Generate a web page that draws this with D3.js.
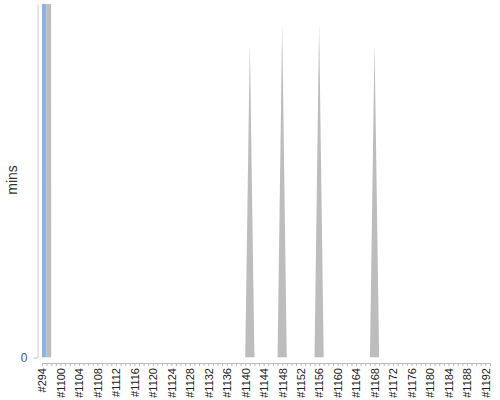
<!DOCTYPE html>
<html>
<head>
<meta charset="utf-8">
<script src="https://cdn.jsdelivr.net/npm/d3@7"></script>
<style>
  body { margin: 0; background: #fff; }
  text { font-family: "Liberation Sans", Arial, sans-serif; }
</style>
</head>
<body>
<div id="chart"></div>
<script>
// builds along the x axis (first one is an old build, then the recent run)
var builds = [294,
  1097, 1098, 1099, 1100, 1101, 1102, 1103, 1104, 1105, 1106,
  1107, 1108, 1109, 1110, 1111, 1112, 1113, 1114, 1115, 1116,
  1117, 1118, 1119, 1120, 1121, 1122, 1123, 1124, 1125, 1126,
  1127, 1128, 1129, 1130, 1131, 1132, 1133, 1134, 1135, 1136,
  1137, 1138, 1139, 1140, 1141, 1142, 1143, 1144, 1145, 1146,
  1147, 1148, 1149, 1150, 1151, 1152, 1153, 1154, 1155, 1156,
  1157, 1158, 1159, 1160, 1161, 1162, 1163, 1164, 1165, 1166,
  1167, 1168, 1169, 1170, 1171, 1172, 1173, 1174, 1175, 1176,
  1177, 1178, 1179, 1180, 1181, 1182, 1183, 1184, 1185, 1186,
  1187, 1188, 1189, 1190, 1191, 1192, 1193];

// duration in mins, per build status
var success = [600,
  0, 0, 0, 0, 0, 0, 0, 0, 0, 0,
  0, 0, 0, 0, 0, 0, 0, 0, 0, 0,
  0, 0, 0, 0, 0, 0, 0, 0, 0, 0,
  0, 0, 0, 0, 0, 0, 0, 0, 0, 0,
  0, 0, 0, 0, 0, 0, 0, 0, 0, 0,
  0, 0, 0, 0, 0, 0, 0, 0, 0, 0,
  0, 0, 0, 0, 0, 0, 0, 0, 0, 0,
  0, 0, 0, 0, 0, 0, 0, 0, 0, 0,
  0, 0, 0, 0, 0, 0, 0, 0, 0, 0,
  0, 0, 0, 0, 0, 0, 0];
var other = [0,
  600, 0, 0, 0, 0, 0, 0, 0, 0, 0,
  0, 0, 0, 0, 0, 0, 0, 0, 0, 0,
  0, 0, 0, 0, 0, 0, 0, 0, 0, 0,
  0, 0, 0, 0, 0, 0, 0, 0, 0, 0,
  0, 0, 0, 0, 17.8, 0, 0, 0, 0, 0,
  0, 18.9, 0, 0, 0, 0, 0, 0, 0, 18.9,
  0, 0, 0, 0, 0, 0, 0, 0, 0, 0,
  0, 17.8, 0, 0, 0, 0, 0, 0, 0, 0,
  0, 0, 0, 0, 0, 0, 0, 0, 0, 0,
  0, 0, 0, 0, 0, 0, 0];

var tickLabels = ["#294", "#1100", "#1104", "#1108", "#1112", "#1116", "#1120",
  "#1124", "#1128", "#1132", "#1136", "#1140", "#1144", "#1148", "#1152",
  "#1156", "#1160", "#1164", "#1168", "#1172", "#1176", "#1180", "#1184",
  "#1188", "#1192"];

var yMax = 20;

var w = 500;
var h = 400;
var plotLeft = 42, plotRight = 490, plotTop = 4, plotBottom = 357.5;

var svg = d3.select("#chart").append("svg")
  .attr("width", w)
  .attr("height", h);

var names = builds.map(function(b) { return "#" + b; });

var x = d3.scalePoint()
  .domain(names)
  .range([plotLeft, plotRight]);

var y = d3.scaleLinear()
  .domain([0, yMax])
  .range([plotBottom, plotTop]);

var rows = names.map(function(n, i) {
  return {build: n, success: success[i], other: other[i]};
});

var stack = d3.stack().keys(["success", "other"]);
var layers = stack(rows);
var colors = {success: "#8fb3e0", other: "#bdbdbd"};

svg.append("clipPath")
  .attr("id", "plot")
  .append("rect")
  .attr("x", 38)
  .attr("y", plotTop)
  .attr("width", w - 38)
  .attr("height", plotBottom - plotTop);

var area = d3.area()
  .x(function(d) { return x(d.data.build); })
  .y0(function(d) { return y(d[0]); })
  .y1(function(d) { return y(d[1]); });

svg.append("g")
  .attr("clip-path", "url(#plot)")
  .selectAll("path")
  .data(layers)
  .enter()
  .append("path")
  .attr("d", area)
  .attr("fill", function(d) { return colors[d.key]; });

// x axis
var xAxis = svg.append("g")
  .attr("transform", "translate(0,363)")
  .call(d3.axisBottom(x)
    .tickSize(3)
    .tickSizeOuter(0)
    .tickFormat(function(d) { return tickLabels.indexOf(d) >= 0 ? d : ""; }));

xAxis.select(".domain").attr("stroke", "#bbb");
xAxis.selectAll(".tick line").attr("stroke", "#bbb");
xAxis.selectAll(".tick text")
  .attr("transform", "rotate(-90)")
  .attr("x", -5)
  .attr("y", 0)
  .attr("dy", "0.35em")
  .attr("text-anchor", "end")
  .attr("font-size", "11px")
  .attr("font-family", "Liberation Sans, Arial, sans-serif")
  .attr("fill", "#222");

// y axis
var yAxis = svg.append("g")
  .attr("transform", "translate(37.5,0)")
  .call(d3.axisLeft(y)
    .tickValues([0])
    .tickSize(4)
    .tickSizeOuter(0)
    .tickPadding(6));

yAxis.select(".domain").attr("stroke", "#ccc");
yAxis.selectAll(".tick line").attr("stroke", "#bbb");
yAxis.selectAll(".tick text")
  .attr("font-size", "12px")
  .attr("font-family", "Liberation Sans, Arial, sans-serif")
  .attr("fill", "#555");

svg.append("text")
  .attr("transform", "translate(17,180) rotate(-90)")
  .attr("text-anchor", "middle")
  .attr("font-size", "14px")
  .attr("fill", "#333")
  .text("mins");
</script>
</body>
</html>
